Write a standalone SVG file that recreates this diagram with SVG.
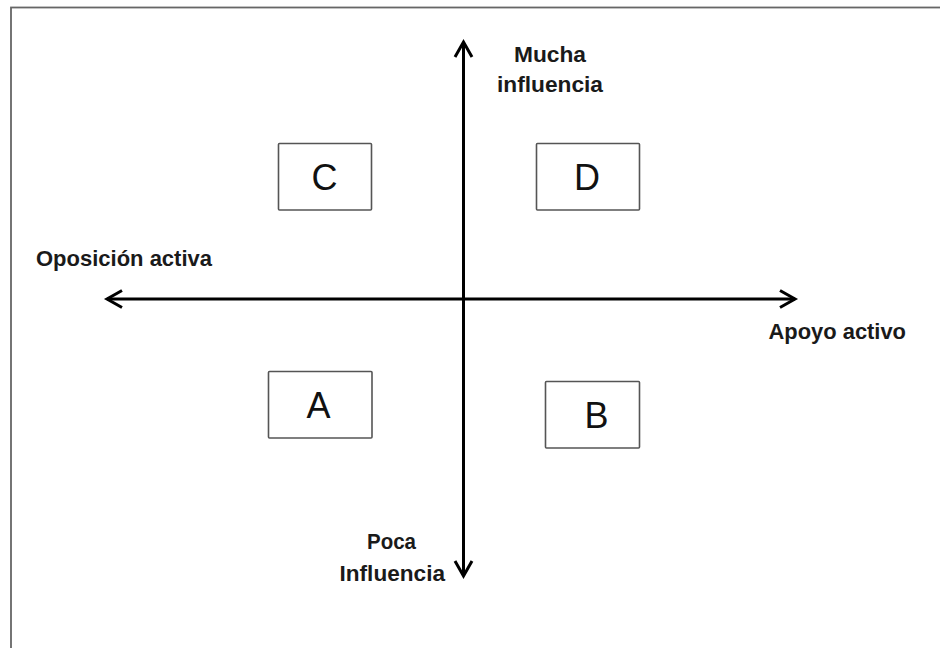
<svg xmlns="http://www.w3.org/2000/svg" width="940" height="648" viewBox="0 0 940 648">
<style>
.frame{fill:none;stroke:#666;stroke-width:1.8}
.box{fill:#fff;stroke:#555;stroke-width:1.6}
.letter{font-family:"Liberation Sans",Arial,sans-serif;font-size:36px;fill:#111;text-anchor:middle}
.lab{font-family:"Liberation Sans",Arial,sans-serif;font-size:21.5px;font-weight:bold;fill:#1a1a1a}
.axis{fill:none;stroke:#000;stroke-width:3}
</style>
<defs>
<marker id="arr" markerUnits="userSpaceOnUse" viewBox="-20 -12 24 24" refX="0" refY="0" markerWidth="24" markerHeight="24" orient="auto-start-reverse">
<path d="M-15,-8.5 L0,0 L-15,8.5" fill="none" stroke="#000" stroke-width="3" stroke-linejoin="miter"/>
</marker>
</defs>
<rect width="940" height="648" fill="#fff"/>
<rect class="frame" x="11" y="7.5" width="940" height="660"/>
<g id="connectors">
<line class="axis" x1="463.5" y1="576" x2="463.5" y2="42" marker-start="url(#arr)" marker-end="url(#arr)"/>
<line class="axis" x1="107" y1="299" x2="795" y2="299" marker-start="url(#arr)" marker-end="url(#arr)"/>
</g>
<g id="label-mucha">
<text class="lab" x="514" y="61.5" textLength="72" lengthAdjust="spacingAndGlyphs">Mucha</text>
<text class="lab" x="497" y="91.5" textLength="106" lengthAdjust="spacingAndGlyphs">influencia</text>
</g>
<g id="label-poca">
<text class="lab" x="367" y="549" textLength="49" lengthAdjust="spacingAndGlyphs">Poca</text>
<text class="lab" x="339.5" y="581" textLength="105.5" lengthAdjust="spacingAndGlyphs">Influencia</text>
</g>
<g id="label-oposicion">
<text class="lab" x="36" y="266" textLength="176" lengthAdjust="spacingAndGlyphs">Oposición activa</text>
</g>
<g id="label-apoyo">
<text class="lab" x="768.5" y="338.5" textLength="137.5" lengthAdjust="spacingAndGlyphs">Apoyo activo</text>
</g>
<g id="node-C">
<rect class="box" x="278.5" y="143.5" width="93" height="66.5" rx="1"/>
<text class="letter" x="324.5" y="190">C</text>
</g>
<g id="node-D">
<rect class="box" x="536.5" y="143.5" width="103" height="66.5" rx="1"/>
<text class="letter" x="587" y="190">D</text>
</g>
<g id="node-A">
<rect class="box" x="268.5" y="371.5" width="103.5" height="66.5" rx="1"/>
<text class="letter" x="318.5" y="418">A</text>
</g>
<g id="node-B">
<rect class="box" x="545.5" y="381.5" width="94" height="66.5" rx="1"/>
<text class="letter" x="596.5" y="428">B</text>
</g>
</svg>
